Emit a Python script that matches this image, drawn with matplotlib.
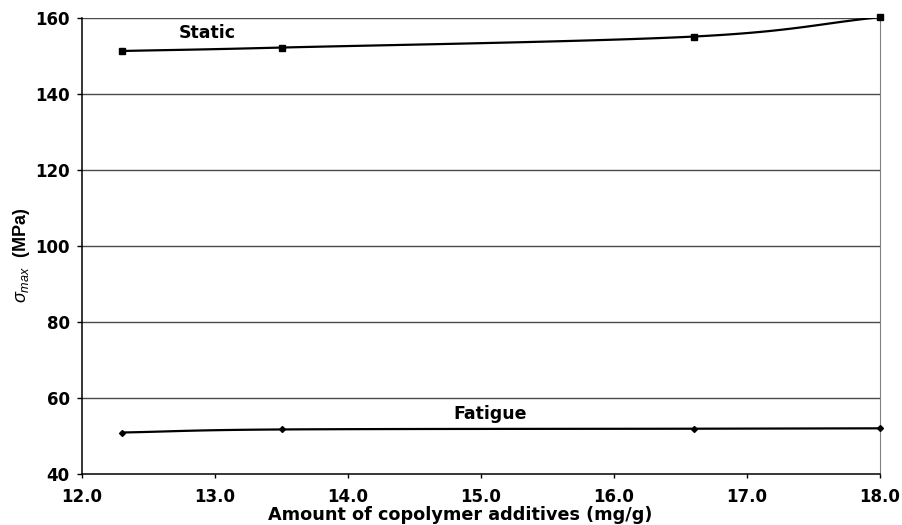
import numpy as np
import matplotlib
matplotlib.use("Agg")
import matplotlib.pyplot as plt

# data
additive = [12.3, 13.5, 16.6, 18.0]
static_sigma = [151.4, 152.3, 155.2, 160.3]
fatigue_sigma = [51.0, 51.8, 52.0, 52.1]
xticks = [12.0, 13.0, 14.0, 15.0, 16.0, 17.0, 18.0]
yticks = [40, 60, 80, 100, 120, 140, 160]


def smooth(x, y, n=30):
    # catmull-rom through the points, like excel's smoothed line
    x = np.asarray(x, float)
    y = np.asarray(y, float)
    px = np.concatenate([[2 * x[0] - x[1]], x, [2 * x[-1] - x[-2]]])
    py = np.concatenate([[2 * y[0] - y[1]], y, [2 * y[-1] - y[-2]]])
    xs, ys = [], []
    t = np.linspace(0, 1, n)
    for i in range(1, len(px) - 2):
        for p, out in ((px, xs), (py, ys)):
            p0, p1, p2, p3 = p[i - 1], p[i], p[i + 1], p[i + 2]
            out.extend(0.5 * (2 * p1 + (-p0 + p2) * t
                              + (2 * p0 - 5 * p1 + 4 * p2 - p3) * t ** 2
                              + (-p0 + 3 * p1 - 3 * p2 + p3) * t ** 3))
    return xs, ys


plt.rcParams['font.family'] = ['DejaVu Sans']
plt.rcParams['mathtext.fontset'] = 'custom'
plt.rcParams['mathtext.it'] = 'Liberation Sans:italic'
plt.rcParams['mathtext.rm'] = 'Liberation Sans'

W, H = 902, 525
fig = plt.figure(figsize=(W / 100, H / 100), dpi=100)
ax = fig.add_axes([82 / W, 1 - 474.3 / H, (880 - 82) / W, (474.3 - 18.3) / H])

for xv, yv, m, ms in ((additive, static_sigma, 's', 4), (additive, fatigue_sigma, 'D', 3)):
    sx, sy = smooth(xv, yv)
    ax.plot(sx, sy, color='black', lw=1.6, zorder=3)
    ax.plot(xv, yv, ls='none', marker=m, ms=ms, color='black', zorder=4, clip_on=False)

ax.set_xlim(12, 18)
ax.set_ylim(40, 160)
ax.set_xticks(xticks)
ax.set_xticklabels(['%.1f' % v for v in xticks])
ax.set_yticks(yticks)
for v in yticks[1:]:
    ax.axhline(v, color='#4a4a4a', lw=1, zorder=1)

ax.spines['top'].set_visible(False)
ax.spines['right'].set_color('#808080')
for s in ('left', 'bottom'):
    ax.spines[s].set_color('black')
    ax.spines[s].set_linewidth(1.1)
ax.tick_params(axis='x', direction='out', length=3, width=1, labelsize=12, pad=7)
ax.tick_params(axis='y', direction='out', length=3.8, width=1, labelsize=12, pad=5)
for lab in ax.get_xticklabels() + ax.get_yticklabels():
    lab.set_fontweight('bold')

fig.text(460 / W, 1 - 520 / H, 'Amount of copolymer additives (mg/g)',
         fontsize=12.7, fontweight='bold', ha='center', va='baseline')
fig.text(22 / W, 1 - 255 / H, r'$\sigma_{max}$  (MPa)', rotation=90,
         fontsize=13, fontweight='bold', family='Liberation Sans', ha='center', va='center')

ax.text(12.724, 154.9, 'Static', fontsize=12.5, fontweight='bold', va='baseline')
ax.text(14.79, 54.55, 'Fatigue', fontsize=12.5, fontweight='bold', va='baseline')

fig.savefig('out.png', dpi=100)
